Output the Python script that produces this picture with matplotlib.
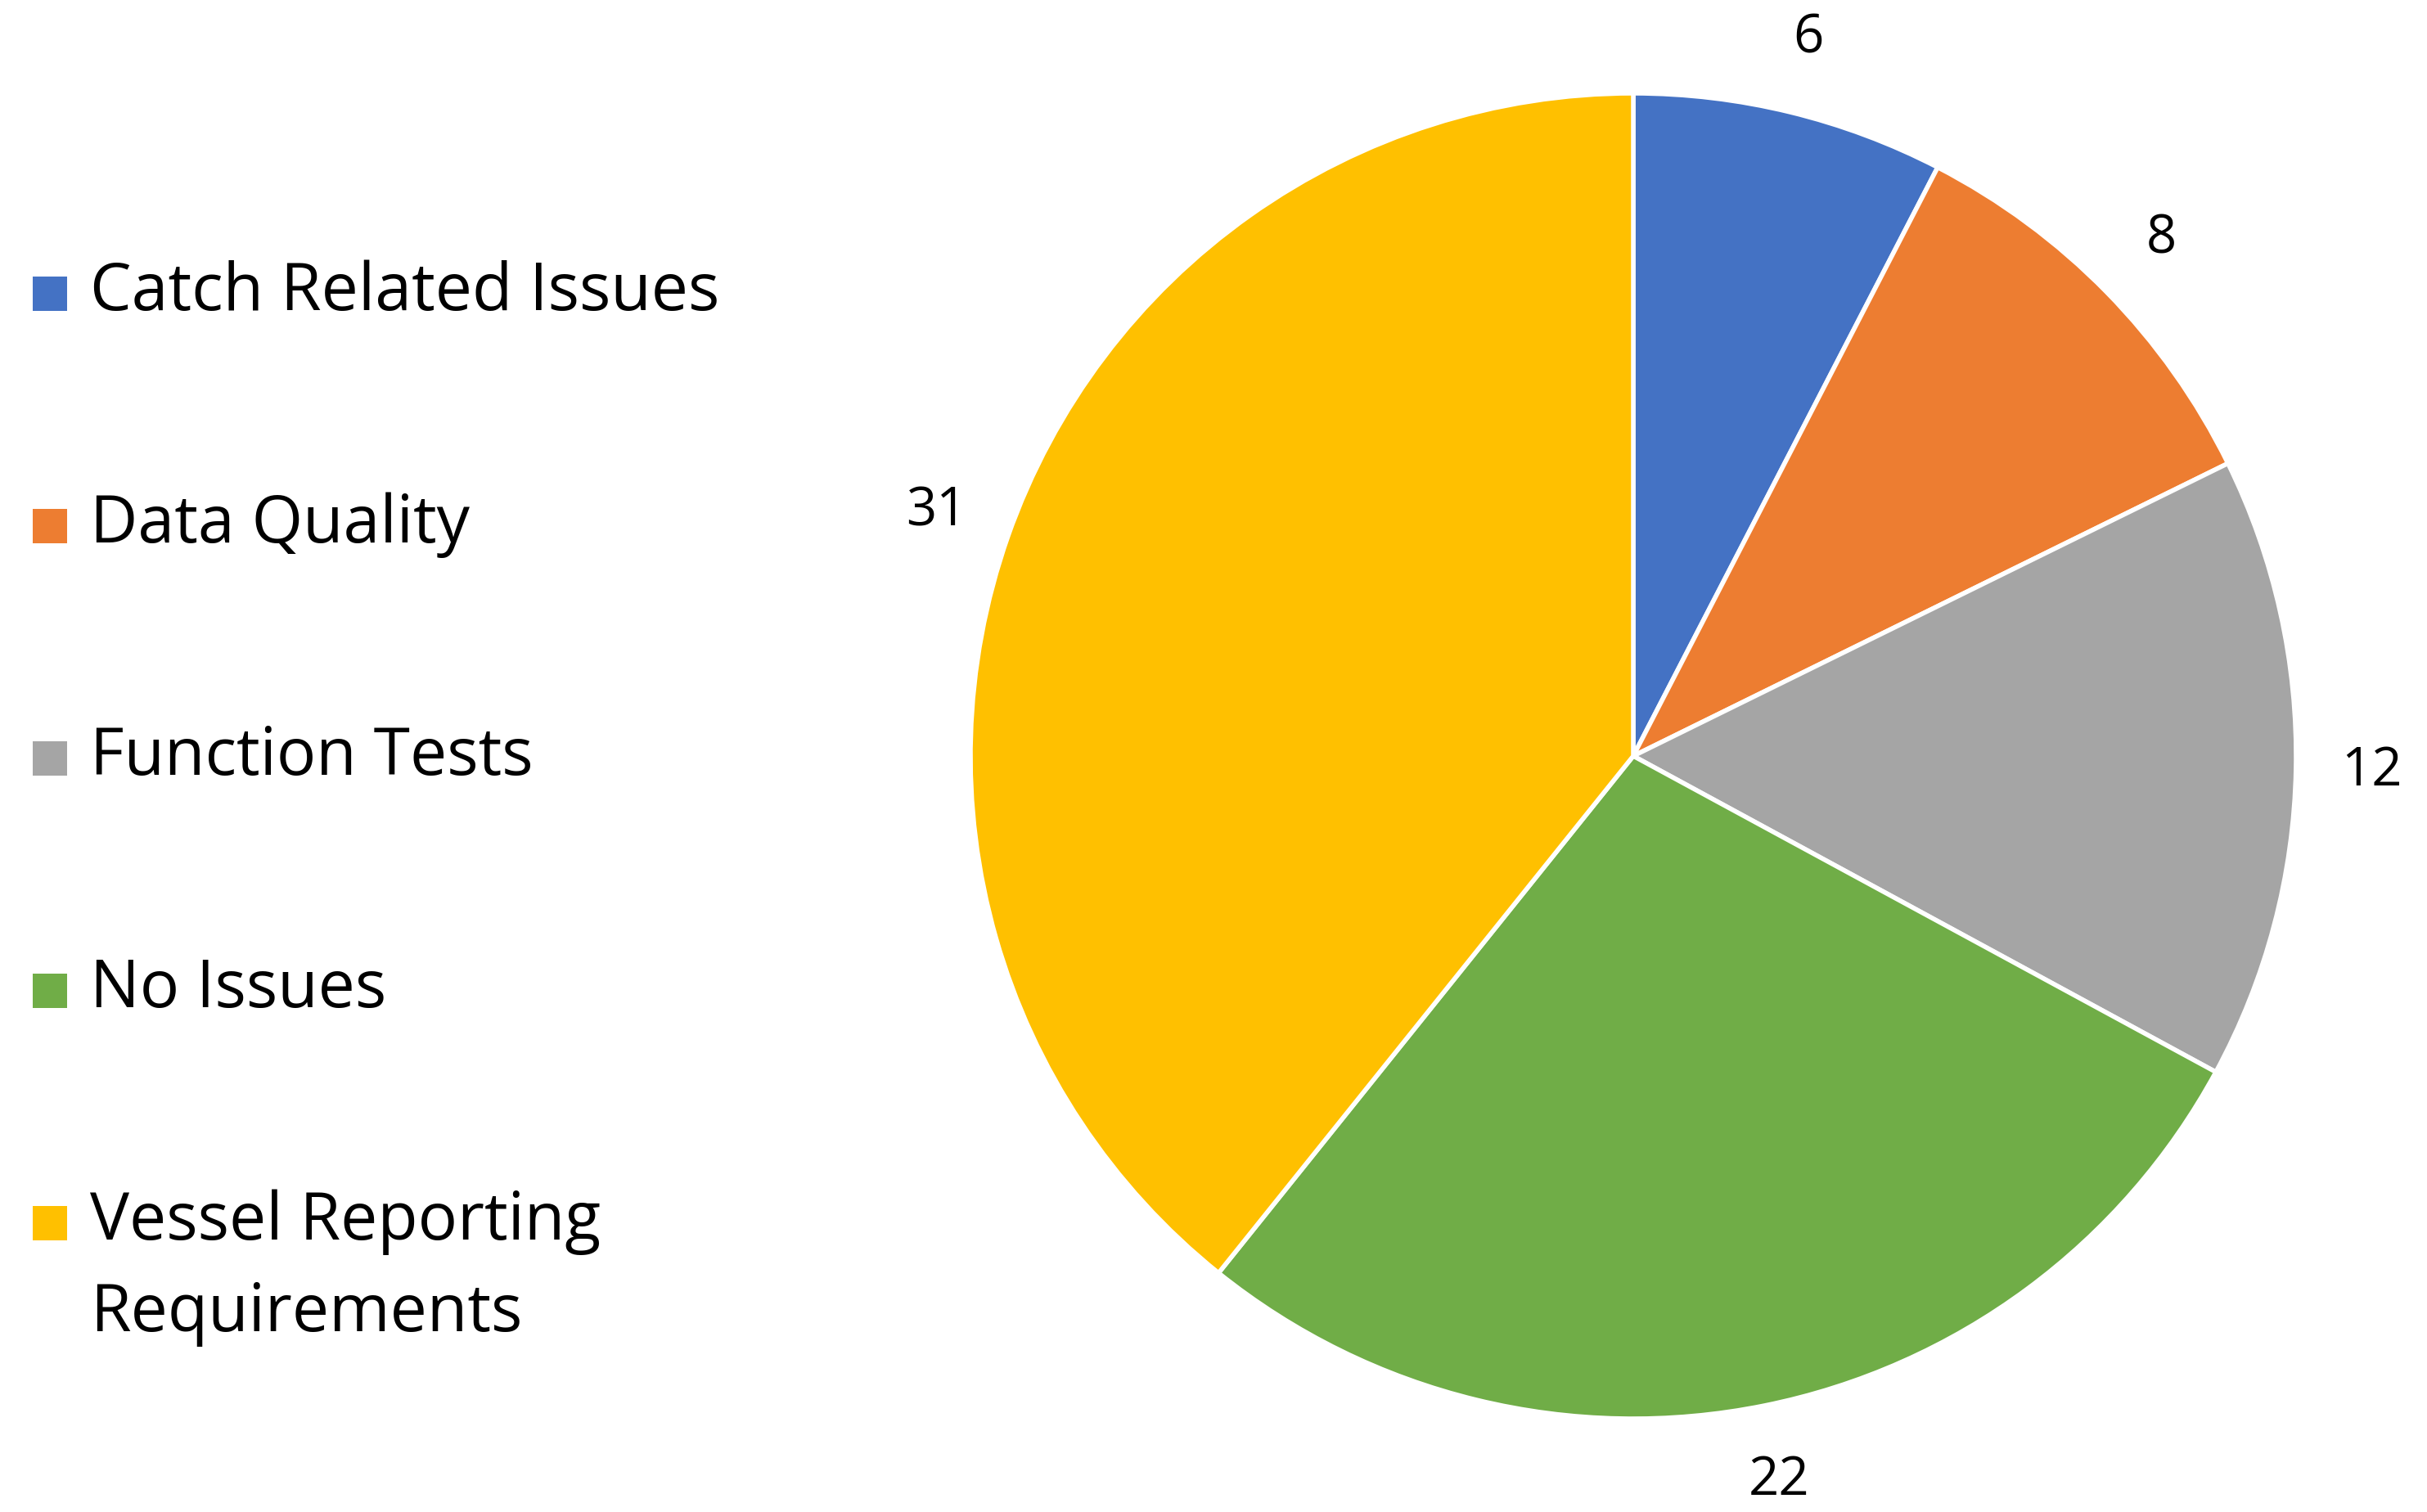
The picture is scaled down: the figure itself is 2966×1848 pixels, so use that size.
import matplotlib
matplotlib.use("Agg")
import matplotlib.pyplot as plt
from matplotlib.patches import Rectangle

categories = ["Catch Related Issues", "Data Quality", "Function Tests", "No Issues",
              "Vessel Reporting\nRequirements"]
values = [6, 8, 12, 22, 31]
colors = ["#4472C4", "#ED7D31", "#A5A5A5", "#70AD47", "#FFC000"]

W, H, DPI = 2966, 1849, 100
plt.rcParams['font.family'] = ['Open Sans', 'DejaVu Sans']
fig = plt.figure(figsize=(W / DPI, H / DPI), dpi=DPI)

cx, cy, R = 1996, 925, 810
ax = fig.add_axes([(cx - R) / W, (H - cy - R) / H, 2 * R / W, 2 * R / H])
total = sum(values)
wedges, texts, autotexts = ax.pie(
    values, colors=colors, startangle=90, counterclock=False, radius=1.0,
    wedgeprops=dict(edgecolor="white", linewidth=4),
    autopct=lambda p: f"{round(p * total / 100):d}", pctdistance=1.115,
    textprops=dict(fontsize=47, color="black"))
ax.set_xlim(-1, 1)
ax.set_ylim(-1, 1)
ax.set_aspect("equal")
ax.axis("off")

# legend (Excel-style, left side)
y0, dy = 360, 284
for i, (lab, col) in enumerate(zip(categories, colors)):
    y = y0 + i * dy
    fig.patches.append(Rectangle((40 / W, (H - y - 21) / H), 42 / W, 42 / H,
                                 transform=fig.transFigure, facecolor=col,
                                 edgecolor="none"))
    fig.text(110 / W, (H - y + 42) / H, lab, fontsize=58, ha="left", va="top",
             linespacing=1.5, transform=fig.transFigure)

fig.savefig("out.png", dpi=DPI, facecolor="white")
